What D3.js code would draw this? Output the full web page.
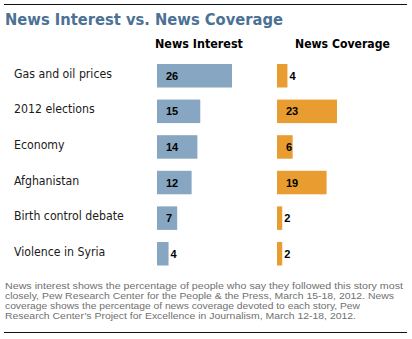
<!DOCTYPE html>
<html>
<head>
<meta charset="utf-8">
<script src="https://cdn.jsdelivr.net/npm/d3@7"></script>
<style>
  body { margin: 0; background: #fff; }
  svg { display: block; }
</style>
</head>
<body>
<div id="chart"></div>
<script>
// data
const categories = ["Gas and oil prices", "2012 elections", "Economy", "Afghanistan", "Birth control debate", "Violence in Syria"];
const interest = [26, 15, 14, 12, 7, 4];
const coverage = [4, 23, 6, 19, 2, 2];
const footnote = [
  "News interest shows the percentage of people who say they followed this story most",
  "closely, Pew Research Center for the People & the Press, March 15-18, 2012. News",
  "coverage shows the percentage of news coverage devoted to each story, Pew",
  "Research Center\u2019s Project for Excellence in Journalism, March 12-18, 2012."
];
const footWidths = [398, 389, 355, 351];

const W = 412, H = 339;
const labelFont = "'DejaVu Sans Condensed', 'DejaVu Sans', sans-serif";

const svg = d3.select("#chart").append("svg")
  .attr("width", W).attr("height", H);

// shrink/grow a text node so it spans a given width
function fit(sel, target) {
  const n = sel.node();
  const fs = parseFloat(sel.style("font-size"));
  const w = n.getComputedTextLength();
  sel.style("font-size", (fs * target / w) + "px");
  return sel;
}

// rules
svg.append("line").attr("x1", 4).attr("x2", 407).attr("y1", 4.5).attr("y2", 4.5)
  .attr("stroke", "#111").attr("stroke-width", 1.2);
svg.append("line").attr("x1", 4).attr("x2", 407).attr("y1", 332.5).attr("y2", 332.5)
  .attr("stroke", "#111").attr("stroke-width", 1.2);

// title
const title = svg.append("text").attr("x", 5).attr("y", 25)
  .text("News Interest vs. News Coverage")
  .style("font-family", labelFont).style("font-weight", "bold")
  .style("font-size", "17px").style("fill", "#4b7194");
fit(title, 278);

// column headers
const h1 = svg.append("text").attr("x", 155).attr("y", 48).text("News Interest")
  .style("font-family", labelFont).style("font-weight", "bold").style("font-size", "12px").style("fill", "#000");
fit(h1, 88);
const h2 = svg.append("text").attr("x", 295).attr("y", 48).text("News Coverage")
  .style("font-family", labelFont).style("font-weight", "bold").style("font-size", "12px").style("fill", "#000");
fit(h2, 95);

// scales
const y = d3.scaleBand().domain(categories).range([64, 265.5]).paddingInner(0.34).paddingOuter(0);
const xInt = d3.scaleLinear().domain([0, 26]).range([157, 232]);
const xCov = d3.scaleLinear().domain([0, 23]).range([277, 337]);

const rows = categories.map((c, i) => ({cat: c, interest: interest[i], coverage: coverage[i]}));

// category labels
svg.selectAll(".cat").data(rows).join("text")
  .attr("class", "cat")
  .attr("x", 14)
  .attr("y", d => y(d.cat) + y.bandwidth() / 2 + 2)
  .text(d => d.cat)
  .style("font-family", labelFont).style("font-size", "12px").style("fill", "#1a1a1a");
fit(svg.select(".cat"), 98);
const catSize = svg.select(".cat").style("font-size");
svg.selectAll(".cat").style("font-size", catSize);

function drawBars(key, x, color) {
  const g = svg.append("g");
  g.selectAll("rect").data(rows).join("rect")
    .attr("x", x(0))
    .attr("y", d => y(d.cat))
    .attr("width", d => x(d[key]) - x(0))
    .attr("height", y.bandwidth())
    .attr("fill", color);
  g.selectAll("text").data(rows).join("text")
    .attr("x", d => (x(d[key]) - x(0) >= 15) ? x(0) + 9 : x(d[key]) + 2)
    .attr("y", d => y(d.cat) + y.bandwidth() / 2 + 4)
    .text(d => d[key])
    .style("font-family", "'Liberation Sans', Arial, sans-serif")
    .style("font-weight", "bold").style("font-size", "11px").style("fill", "#000");
}
drawBars("interest", xInt, "#86a6c1");
drawBars("coverage", xCov, "#e99d30");

// footnote
svg.selectAll(".foot").data(footnote).join("text")
  .attr("class", "foot")
  .attr("x", 5)
  .attr("y", (d, i) => 289 + i * 10)
  .attr("textLength", (d, i) => footWidths[i])
  .attr("lengthAdjust", "spacingAndGlyphs")
  .text(d => d)
  .style("font-family", "'Liberation Sans', Arial, sans-serif")
  .style("font-size", "8.6px").style("fill", "#707070");
</script>
</body>
</html>
